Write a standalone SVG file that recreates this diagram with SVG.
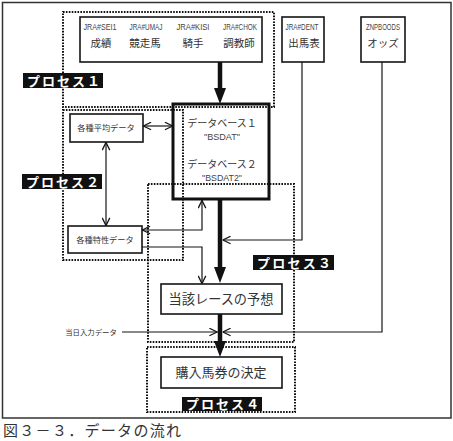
<svg xmlns="http://www.w3.org/2000/svg" width="453" height="441" viewBox="0 0 453 441">
<style>
.box{fill:none;stroke:#151515;stroke-width:1.6}
.db{fill:none;stroke:#111;stroke-width:3}
.dot{fill:none;stroke:#111;stroke-width:2;stroke-dasharray:1.6 1.3}
.ln{fill:none;stroke:#151515;stroke-width:1.2}
.thick{fill:none;stroke:#111;stroke-width:4.5}
.jp{font-family:"Noto Sans CJK JP","Noto Sans",sans-serif;fill:#333;text-anchor:middle}
.code{font-family:"Liberation Sans",sans-serif;fill:#444;text-anchor:middle;font-size:8.5px}
.lab{fill:#111}
.labt{font-family:"Noto Sans CJK JP",sans-serif;fill:#fff;font-weight:bold;font-size:13px}
</style>
<defs>
<marker id="op" viewBox="0 0 10 10" refX="10" refY="5" markerWidth="9" markerHeight="9" markerUnits="userSpaceOnUse" orient="auto-start-reverse">
<path d="M1,0.8 L9.6,5 L1,9.2" fill="none" stroke="#151515" stroke-width="1.4"/>
</marker>
<marker id="fh" viewBox="0 0 16 12" refX="6" refY="6" markerWidth="16" markerHeight="12" markerUnits="userSpaceOnUse" orient="auto">
<path d="M0,0 L16,6 L0,12 z" fill="#111"/>
</marker>
</defs>
<rect x="0" y="0" width="453" height="441" fill="#fff"/>
<rect x="2.5" y="2.5" width="448.5" height="415.5" fill="none" stroke="#333" stroke-width="1.5"/>

<g id="process-areas">
<rect class="dot" x="63" y="12" width="211" height="95"/>
<rect class="dot" x="63" y="110" width="120" height="150"/>
<rect class="dot" x="148" y="184" width="146" height="158"/>
<rect class="dot" x="147" y="347" width="148" height="65"/>
</g>

<g id="connectors">
<path class="thick" d="M220,62 V94" marker-end="url(#fh)"/>
<path class="thick" d="M220,200 V273" marker-end="url(#fh)"/>
<path class="thick" d="M220,314 V347" marker-end="url(#fh)"/>
<path class="ln" d="M143,126 H173" marker-start="url(#op)" marker-end="url(#op)"/>
<path class="ln" d="M106,142 V226" marker-start="url(#op)" marker-end="url(#op)"/>
<path class="ln" d="M142,230 H202 V200" marker-start="url(#op)" marker-end="url(#op)"/>
<path class="ln" d="M142,247 H202 V284" marker-end="url(#op)"/>
<path class="ln" d="M302,62 V240 H222.5" marker-end="url(#op)"/>
<path class="ln" d="M382,62 V332 H222.5" marker-end="url(#op)"/>
<path class="ln" d="M122,332 H217.5" marker-end="url(#op)"/>
</g>

<g id="sources">
<rect class="box" x="80" y="17" width="182" height="45"/>
<text class="code" x="100" y="30" textLength="33" lengthAdjust="spacingAndGlyphs">JRA#SEI1</text>
<text class="code" x="146" y="30" textLength="33" lengthAdjust="spacingAndGlyphs">JRA#UMAJ</text>
<text class="code" x="193" y="30" textLength="33" lengthAdjust="spacingAndGlyphs">JRA#KISI</text>
<text class="code" x="240" y="30" textLength="34" lengthAdjust="spacingAndGlyphs">JRA#CHOK</text>
<text class="jp" x="101" y="47" font-size="10.5">成績</text>
<text class="jp" x="145" y="47" font-size="10.5">競走馬</text>
<text class="jp" x="193" y="47" font-size="10.5">騎手</text>
<text class="jp" x="239" y="47" font-size="10.5">調教師</text>
</g>

<g id="dent">
<rect class="box" x="282" y="17" width="42" height="45"/>
<text class="code" x="302" y="30" textLength="33" lengthAdjust="spacingAndGlyphs">JRA#DENT</text>
<text class="jp" x="304" y="47" font-size="10.5">出馬表</text>
</g>

<g id="odds">
<rect class="box" x="361" y="17" width="44" height="45"/>
<text class="code" x="383" y="30" textLength="34" lengthAdjust="spacingAndGlyphs">ZNPBOODS</text>
<text class="jp" x="383" y="47" font-size="10.5">オッズ</text>
</g>

<g id="database">
<rect class="db" x="173" y="104" width="96" height="95"/>
<text class="jp" x="222" y="127" font-size="10">データベース１</text>
<text class="code" x="222" y="140" font-size="8.5" textLength="36" lengthAdjust="spacingAndGlyphs">"BSDAT"</text>
<text class="jp" x="222" y="168" font-size="10">データベース２</text>
<text class="code" x="222" y="181" font-size="8.5" textLength="40" lengthAdjust="spacingAndGlyphs">"BSDAT2"</text>
</g>

<g id="heikin">
<rect class="box" x="70" y="114" width="73" height="28"/>
<text class="jp" x="106" y="131" font-size="8.2">各種平均データ</text>
</g>

<g id="tokusei">
<rect class="box" x="68" y="226" width="74" height="27"/>
<text class="jp" x="105" y="243" font-size="8.2">各種特性データ</text>
</g>

<g id="yosou">
<rect class="box" x="161" y="284" width="121" height="30"/>
<text class="jp" x="221" y="304" font-size="13.2">当該レースの予想</text>
</g>

<g id="kettei">
<rect class="box" x="161" y="357" width="121" height="31"/>
<text class="jp" x="221" y="377" font-size="13">購入馬券の決定</text>
</g>

<g id="tojitsu">
<text class="jp" x="91" y="335" font-size="7.4">当日入力データ</text>
</g>

<g id="labels">
<rect class="lab" x="23" y="73" width="80" height="15"/>
<text class="labt" x="27" y="85.5" textLength="73">プロセス１</text>
<rect class="lab" x="22" y="174" width="80" height="15"/>
<text class="labt" x="26" y="186.5" textLength="73">プロセス２</text>
<rect class="lab" x="253" y="255" width="81" height="15"/>
<text class="labt" x="257" y="267.5" textLength="74">プロセス３</text>
<rect class="lab" x="182" y="397" width="80" height="14"/>
<text class="labt" x="186" y="409" textLength="73">プロセス４</text>
</g>

<text x="3" y="436" font-family="'Noto Sans CJK JP',sans-serif" font-size="15" fill="#333" textLength="178">図３－３．データの流れ</text>
</svg>
